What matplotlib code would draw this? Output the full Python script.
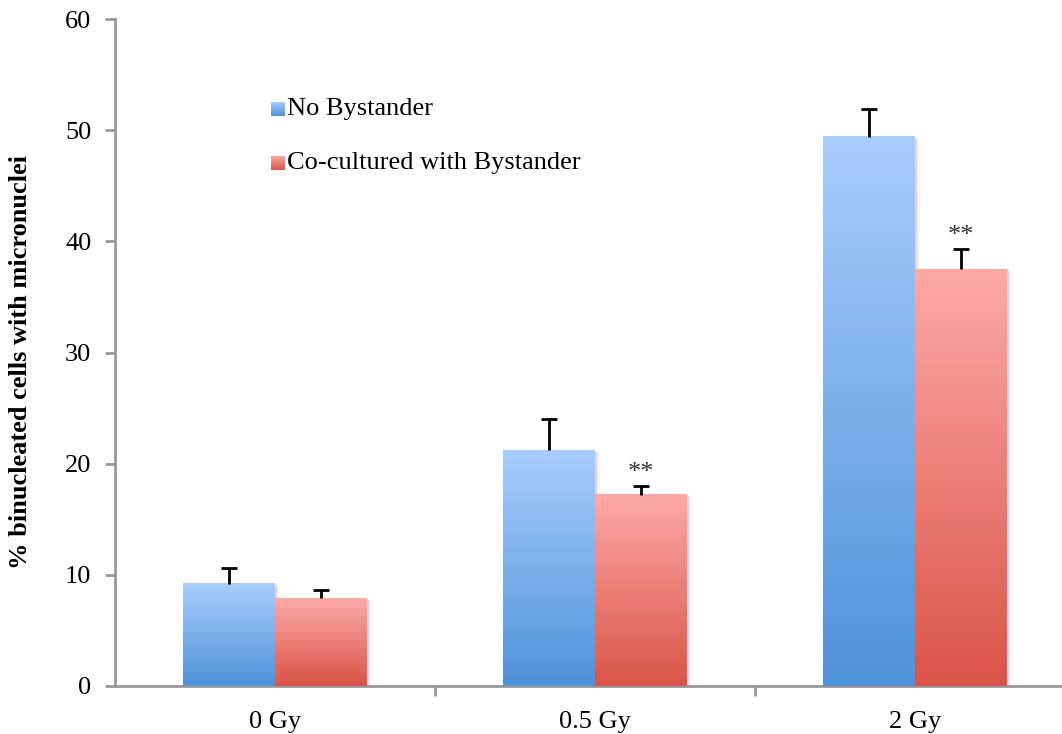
import numpy as np
import matplotlib
matplotlib.use("Agg")
import matplotlib.pyplot as plt
from matplotlib.colors import LinearSegmentedColormap

# Data
categories = ["0 Gy", "0.5 Gy", "2 Gy"]
series_names = ["No Bystander", "Co-cultured with Bystander"]
no_bystander = [9.2, 21.2, 49.4]
no_bystander_err = [1.4, 2.8, 2.5]
cocultured = [7.9, 17.2, 37.5]
cocultured_err = [0.7, 0.8, 1.8]
significance = ["", "**", "**"]
y_ticks = [0, 10, 20, 30, 40, 50, 60]

plt.rcParams["font.family"] = ["Liberation Serif", "DejaVu Serif"]
FS = 19

W, H = 1062, 734
fig = plt.figure(figsize=(W / 100, H / 100), dpi=100)
ax = fig.add_axes([115 / W, 48 / H, (W - 115) / W, 667 / H])

blue_cmap = LinearSegmentedColormap.from_list("blue", ["#4e92d8", "#a9cdfd"])
red_cmap = LinearSegmentedColormap.from_list("red", ["#da5448", "#fdaaa7"])
grad = np.linspace(0, 1, 256).reshape(-1, 1)

x = np.arange(len(categories))
bw = 0.2875
cap = 0.025


def gradient_bars(xpos, heights, errs, cmap):
    bars = ax.bar(xpos, heights, width=bw, color="none", edgecolor="none", zorder=2)
    for b in bars:
        x0, y0 = b.get_x(), b.get_y()
        w, h = b.get_width(), b.get_height()
        # soft drop shadow
        for k, a in enumerate([0.07, 0.045, 0.025, 0.012]):
            off = 0.005 * (k + 1)
            ax.add_patch(plt.Rectangle((x0 + off, y0 - 0.06 * (k + 1)), w, h,
                                       color="black", alpha=a, lw=0, zorder=1.5))
        ax.imshow(grad, cmap=cmap, origin="lower", aspect="auto",
                  extent=(x0, x0 + w, y0, y0 + h), zorder=3)
    # upper error whiskers with a single cap
    ax.vlines(xpos, heights, np.add(heights, errs), colors="black", lw=2, zorder=4)
    ax.hlines(np.add(heights, errs), np.subtract(xpos, cap), np.add(xpos, cap),
              colors="black", lw=2, zorder=4)
    return bars


gradient_bars(x - bw / 2, no_bystander, no_bystander_err, blue_cmap)
gradient_bars(x + bw / 2, cocultured, cocultured_err, red_cmap)

for xi, v, e, s in zip(x, cocultured, cocultured_err, significance):
    if s:
        ax.text(xi + bw / 2, v + e + 0.2, s, ha="center", va="bottom",
                fontsize=19, color="#333333", zorder=5)

# legend drawn as gradient squares with text
leg_x = -0.013
for i, (name, cmap) in enumerate(zip(series_names, [blue_cmap, red_cmap])):
    yc = 51.9 - i * 4.86
    ax.imshow(grad, cmap=cmap, origin="lower", aspect="auto",
              extent=(leg_x, leg_x + 0.042, yc - 0.62, yc + 0.62), zorder=3)
    ax.text(leg_x + 0.05, yc, name, ha="left", va="center", fontsize=FS)

ax.set_xlim(-0.5, 2.5 - 13 / 320)
ax.set_ylim(0, 60)
ax.set_yticks(y_ticks)
ax.set_xticks(x)
ax.set_xticklabels(categories)
ax.set_xticks([0.5, 1.5], minor=True)

for side in ["top", "right"]:
    ax.spines[side].set_visible(False)
for side in ["left", "bottom"]:
    ax.spines[side].set_color("#999999")
    ax.spines[side].set_linewidth(2)

ax.tick_params(axis="y", direction="out", length=7, width=2, color="#999999",
               labelsize=FS, pad=10)
ax.tick_params(axis="x", which="major", length=0, labelsize=FS, pad=18)
ax.tick_params(axis="x", which="minor", direction="out", length=7, width=2,
               color="#999999")

ax.set_ylabel("% binucleated cells with micronuclei", fontsize=FS,
              fontweight="bold")
ax.yaxis.set_label_coords(-0.088, 0.486)

fig.savefig("out.png", dpi=100)
